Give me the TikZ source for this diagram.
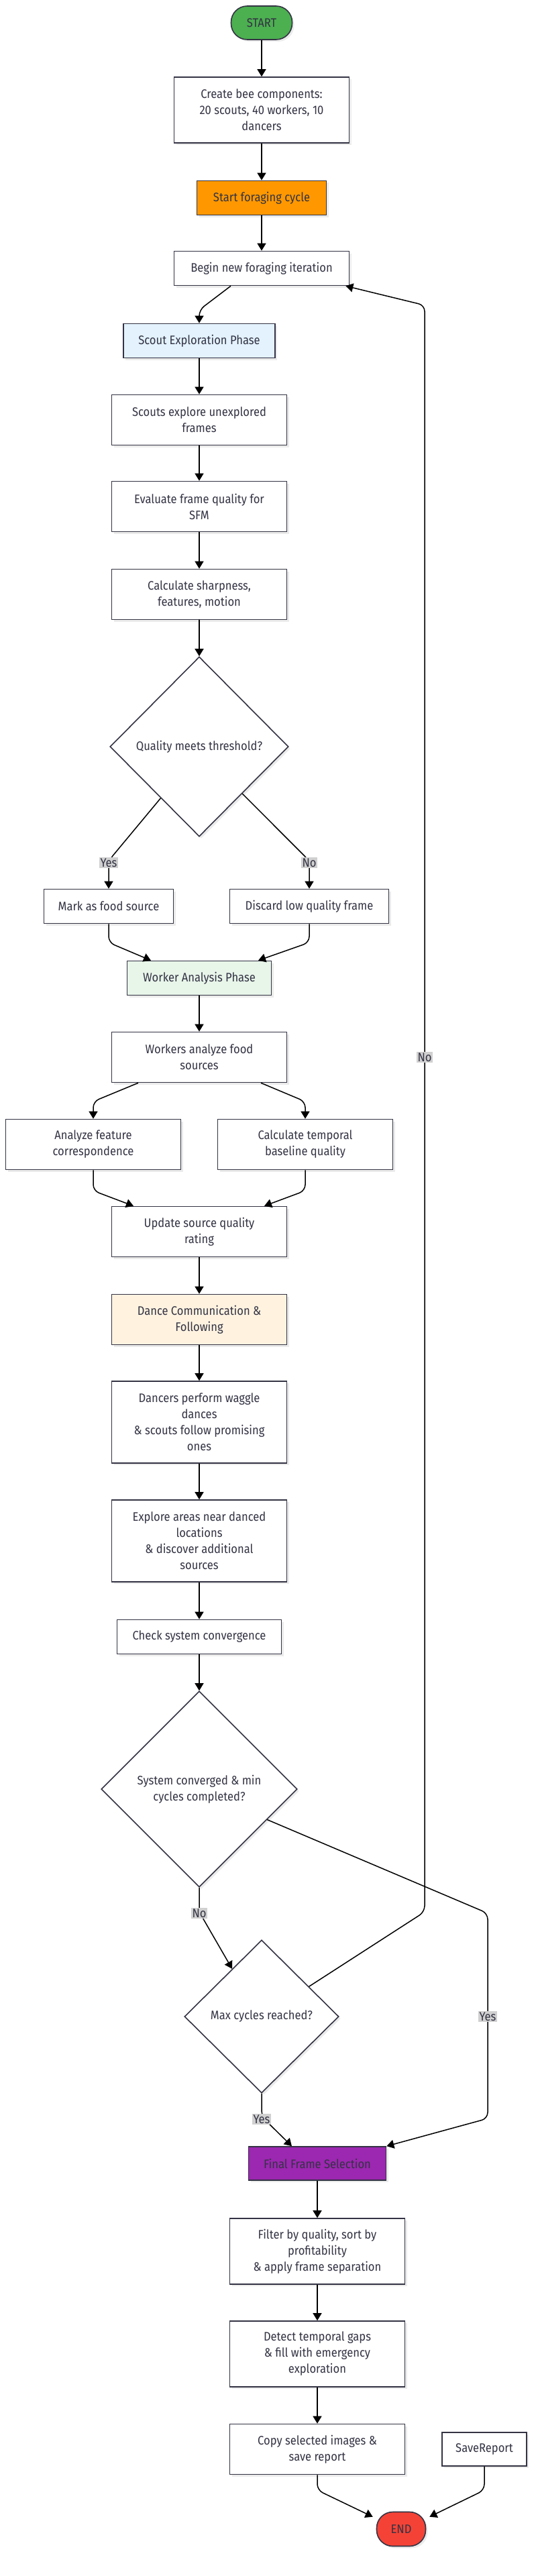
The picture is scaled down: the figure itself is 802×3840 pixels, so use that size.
\documentclass[tikz,border=0pt]{standalone}
\usepackage{fontspec}
\setmainfont[FakeStretch=0.9]{Fira Sans}
\usetikzlibrary{arrows.meta,shapes.geometric,shadows,calc}
\definecolor{ink}{HTML}{333344}
\definecolor{cStart}{HTML}{4CAF50}
\definecolor{cOrange}{HTML}{FF9800}
\definecolor{cBlue}{HTML}{E3F2FD}
\definecolor{cGreen}{HTML}{E8F5E9}
\definecolor{cCream}{HTML}{FFF3E0}
\definecolor{cPurple}{HTML}{9C27B0}
\definecolor{cRed}{HTML}{F44336}
\definecolor{lblgray}{HTML}{D0D0D0}
\tikzset{
  base/.style={draw=ink, line width=1.6pt, text=ink, fill=white,
    font=\fontsize{18.4}{24}\selectfont, align=center, inner sep=0pt,
    drop shadow={shadow xshift=3pt, shadow yshift=-3pt, opacity=0.08, fill=black}},
  box/.style={base, rectangle},
  term/.style={base, rectangle, rounded corners=24pt},
  dec/.style={base, diamond},
  wA/.style={minimum width=261pt},
  hA/.style={minimum height=51pt},
  hB/.style={minimum height=75pt},
  hC/.style={minimum height=98pt},
  hD/.style={minimum height=122pt},
  conn/.style={draw=black, line width=1.5pt, rounded corners=9pt,
    -{Triangle[length=11pt,width=13pt]}},
  lbl/.style={fill=lblgray, text=ink, inner sep=1.5pt,
    font=\fontsize{18.4}{22}\selectfont}
}
\begin{document}
\begin{tikzpicture}[x=1pt,y=-1pt]
\useasboundingbox (0,0) rectangle (802,3840);
\fill[white] (0,0) rectangle (802,3840);
% nodes
\node[term, fill=cStart, minimum width=91pt, minimum height=50pt] (start) at (390,34) {START};
\node[box, wA, hC] (create) at (390,164) {Create bee components:\\20 scouts, 40 workers, 10\\dancers};
\node[box, fill=cOrange, minimum width=193pt, hA] (cycle) at (390,295) {Start foraging cycle};
\node[box, wA, hA] (begin) at (390,400) {Begin new foraging iteration};
\node[box, fill=cBlue, minimum width=226pt, hA] (scout) at (297,508) {Scout Exploration Phase};
\node[box, wA, hB] (explore) at (297,626) {Scouts explore unexplored\\frames};
\node[box, wA, hB] (evaluate) at (297,755) {Evaluate frame quality for\\SFM};
\node[box, wA, hB] (calc) at (297,886) {Calculate sharpness,\\features, motion};
\node[dec, minimum width=266pt, minimum height=268pt] (quality) at (297,1113) {Quality meets threshold?};
\node[box, minimum width=193pt, hA] (mark) at (162,1351) {Mark as food source};
\node[box, minimum width=237pt, hA] (discard) at (461,1351) {Discard low quality frame};
\node[box, fill=cGreen, minimum width=215pt, hA] (worker) at (297,1458) {Worker Analysis Phase};
\node[box, wA, hB] (analyze) at (297,1576) {Workers analyze food\\sources};
\node[box, wA, hB] (feature) at (139,1706) {Analyze feature\\correspondence};
\node[box, wA, hB] (temporal) at (455,1706) {Calculate temporal\\baseline quality};
\node[box, wA, hB] (update) at (297,1836) {Update source quality\\rating};
\node[box, fill=cCream, wA, hB] (dance) at (297,1967) {Dance Communication \&\\Following};
\node[box, wA, hD] (dancers) at (297,2120) {Dancers perform waggle\\dances\\\& scouts follow promising\\ones};
\node[box, wA, hD] (areas) at (297,2297) {Explore areas near danced\\locations\\\& discover additional\\sources};
\node[box, minimum width=245pt, hA] (check) at (297,2440) {Check system convergence};
\node[dec, minimum width=292pt, minimum height=292pt] (conv) at (297,2667) {System converged \& min\\cycles completed?};
\node[dec, minimum width=230pt, minimum height=228pt] (maxc) at (390,3006) {Max cycles reached?};
\node[box, fill=cPurple, minimum width=205pt, minimum height=50pt] (final) at (473,3225) {Final Frame Selection};
\node[box, wA, hC] (filter) at (473,3356) {Filter by quality, sort by\\profitability\\\& apply frame separation};
\node[box, wA, hC] (detect) at (473,3509) {Detect temporal gaps\\\& fill with emergency\\exploration};
\node[box, wA, hB] (copy) at (473,3651) {Copy selected images \&\\save report};
\node[box, minimum width=126pt, minimum height=50pt] (save) at (722,3651) {SaveReport};
\node[term, fill=cRed, minimum width=73pt, minimum height=51pt] (end) at (598,3770) {END};
% connectors
\draw[conn] (start.south) -- (create.north);
\draw[conn] (create.south) -- (cycle.north);
\draw[conn] (cycle.south) -- (begin.north);
\draw[conn] ($(begin.south)+(-46,0)$) -- (297,462) -- (scout.north);
\draw[conn] (scout.south) -- (explore.north);
\draw[conn] (explore.south) -- (evaluate.north);
\draw[conn] (evaluate.south) -- (calc.north);
\draw[conn] (calc.south) -- (quality.north);
\draw[conn] ($(quality.west)!0.57!(quality.south)$) -- (162,1283) -- (mark.north);
\draw[conn] ($(quality.east)!0.52!(quality.south)$) -- (461,1283) -- (discard.north);
\draw[conn] (mark.south) -- (162,1405) -- ($(worker.north)+(-72,0)$);
\draw[conn] (discard.south) -- (461,1405) -- ($(worker.north)+(88,0)$);
\draw[conn] (worker.south) -- (analyze.north);
\draw[conn] ($(analyze.south)+(-91,0)$) -- (139,1642) -- (feature.north);
\draw[conn] ($(analyze.south)+(92,0)$) -- (455,1642) -- (temporal.north);
\draw[conn] (feature.south) -- (139,1775) -- ($(update.north)+(-98,0)$);
\draw[conn] (temporal.south) -- (455,1775) -- ($(update.north)+(97,0)$);
\draw[conn] (update.south) -- (dance.north);
\draw[conn] (dance.south) -- (dancers.north);
\draw[conn] (dancers.south) -- (areas.north);
\draw[conn] (areas.south) -- (check.north);
\draw[conn] (check.south) -- (conv.north);
\draw[conn] (conv.south) -- (297,2850) -- ($(maxc.north)!0.38!(maxc.west)$);
\draw[conn] ($(conv.east)!0.31!(conv.south)$) -- (727,2852) -- (727,3158) -- (final.north east);
\draw[conn] (maxc.south) -- (390,3155) -- ($(final.north)+(-38,0)$);
\draw[conn] ($(maxc.north)!0.61!(maxc.east)$) -- (633,2850) -- (633,455) -- ($(begin.south east)+(-6,0)$);
\draw[conn] (final.south) -- (filter.north);
\draw[conn] (filter.south) -- (detect.north);
\draw[conn] (detect.south) -- (copy.north);
\draw[conn] (copy.south) -- (473,3712) -- ($(end.north west)+(-5,8)$);
\draw[conn] (save.south) -- (722,3712) -- ($(end.north east)+(5,8)$);
% edge labels
\node[lbl] (lyes1) at (162,1286) {Yes};
\node[lbl] (lno1) at (461,1286) {No};
\node[lbl] (lno2) at (633,1576) {No};
\node[lbl] (lno3) at (297,2852) {No};
\node[lbl] (lyes2) at (727,3006) {Yes};
\node[lbl] (lyes3) at (390,3159) {Yes};
\end{tikzpicture}
\end{document}
